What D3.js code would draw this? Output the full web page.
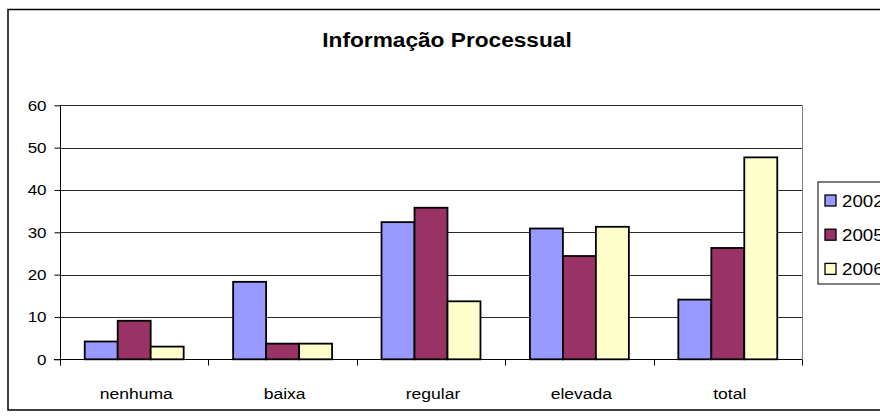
<!DOCTYPE html>
<html>
<head>
<meta charset="utf-8">
<script src="https://cdn.jsdelivr.net/npm/d3@7"></script>
<style>
  html, body { margin: 0; padding: 0; background: #fff; overflow: hidden; }
  svg { display: block; font-family: "Liberation Sans", Arial, sans-serif; }
</style>
</head>
<body>
<svg id="chart" width="880" height="419"></svg>
<script>
// Chart data
const title = "Informação Processual";
const categories = ["nenhuma", "baixa", "regular", "elevada", "total"];
const seriesNames = ["2002", "2005", "2006"];
const values2002 = [4.2, 18.3, 32.4, 30.9, 14.1];
const values2005 = [9.1, 3.7, 35.8, 24.4, 26.3];
const values2006 = [3.0, 3.7, 13.7, 31.3, 47.7];
const yTicks = [0, 10, 20, 30, 40, 50, 60];
const seriesColors = ["#9999FF", "#993366", "#FFFFCC"];

const seriesValues = [values2002, values2005, values2006];

const svg = d3.select("#chart");

// Plot area
const plot = { left: 60, right: 802, top: 105.3, bottom: 359.3 };
const textStretch = 1.17;

// Outer chart frame
svg.append("rect")
  .attr("x", 8).attr("y", 9.5)
  .attr("width", 900).attr("height", 400.5)
  .attr("fill", "#fff").attr("stroke", "#000").attr("stroke-width", 1.5);

// Title
svg.append("text")
  .attr("transform", `translate(447,47) scale(1.08,1)`)
  .attr("text-anchor", "middle")
  .attr("font-size", 21).attr("font-weight", "bold")
  .attr("fill", "#000")
  .text(title);

const x0 = d3.scaleBand().domain(categories).range([plot.left, plot.right]).padding(0);
const x1 = d3.scaleBand().domain(seriesNames).range([0, x0.bandwidth()])
  .paddingInner(0).paddingOuter(0.75);
const y = d3.scaleLinear().domain([0, 60]).range([plot.bottom, plot.top]);

// Horizontal gridlines
svg.append("g").selectAll("line").data(yTicks.filter(d => d > 0)).join("line")
  .attr("x1", plot.left).attr("x2", plot.right)
  .attr("y1", d => Math.round(y(d)) + 0.5).attr("y2", d => Math.round(y(d)) + 0.5)
  .attr("stroke", "#2a2a2a").attr("stroke-width", 1);

// Plot area right border
svg.append("line")
  .attr("x1", plot.right + 0.5).attr("x2", plot.right + 0.5)
  .attr("y1", Math.round(y(60)) + 0.5).attr("y2", Math.round(y(0)) + 0.5)
  .attr("stroke", "#808080").attr("stroke-width", 1);

// Bars
const groups = svg.append("g").selectAll("g").data(categories).join("g")
  .attr("transform", d => `translate(${x0(d)},0)`);
groups.selectAll("rect")
  .data((c, i) => seriesNames.map((s, k) => ({ s, k, v: seriesValues[k][i] })))
  .join("rect")
  .attr("x", d => x1(d.s))
  .attr("width", x1.bandwidth())
  .attr("y", d => y(d.v))
  .attr("height", d => y(0) - y(d.v))
  .attr("fill", d => seriesColors[d.k])
  .attr("stroke", "#000").attr("stroke-width", 1.8);

// Y axis
const yAxis = d3.axisLeft(y).tickValues(yTicks).tickSize(6).tickPadding(8).tickFormat(d3.format("d"));
const gy = svg.append("g").attr("transform", `translate(${plot.left + 0.5},0)`).call(yAxis);
gy.select(".domain").attr("stroke", "#000").attr("d", `M0,${y(60)}V${y(0) + 6}`);
gy.selectAll(".tick line").attr("stroke", "#000");
gy.selectAll(".tick text")
  .attr("font-size", 14.5).attr("fill", "#000")
  .attr("font-family", "Liberation Sans, Arial, sans-serif")
  .attr("dy", "0.33em")
  .attr("transform", function () {
    const xx = +d3.select(this).attr("x");
    return `translate(${xx * (1 - textStretch)},0) scale(${textStretch},1)`;
  });

// X axis: ticks sit at category boundaries
const gx = svg.append("g").attr("transform", `translate(0,${Math.round(y(0)) + 0.5})`);
gx.append("line").attr("x1", plot.left - 6).attr("x2", plot.right)
  .attr("stroke", "#000");
const boundaries = categories.map(c => x0(c)).concat([plot.right]);
gx.selectAll("line.tick").data(boundaries).join("line").attr("class", "tick")
  .attr("x1", d => Math.round(d) + 0.5).attr("x2", d => Math.round(d) + 0.5)
  .attr("y1", 0).attr("y2", 6).attr("stroke", "#000");
gx.selectAll("text").data(categories).join("text")
  .attr("transform", d => `translate(${x0(d) + x0.bandwidth() / 2 + 2},39) scale(${textStretch},1)`)
  .attr("text-anchor", "middle")
  .attr("font-size", 15).attr("fill", "#000")
  .text(d => d);

// Legend
const legend = svg.append("g");
legend.append("rect")
  .attr("x", 818).attr("y", 182).attr("width", 100).attr("height", 102)
  .attr("fill", "#fff").attr("stroke", "#000").attr("stroke-width", 1);
const items = legend.selectAll("g.item").data(seriesNames).join("g").attr("class", "item")
  .attr("transform", (d, i) => `translate(825,${200.5 + i * 34.2})`);
items.append("rect")
  .attr("x", 0).attr("y", -5.5).attr("width", 11).attr("height", 11)
  .attr("fill", (d, i) => seriesColors[i]).attr("stroke", "#000").attr("stroke-width", 1.3);
items.append("text")
  .attr("transform", `translate(17,6) scale(${textStretch},1)`)
  .attr("font-size", 16).attr("fill", "#000")
  .text(d => d);
</script>
</body>
</html>
